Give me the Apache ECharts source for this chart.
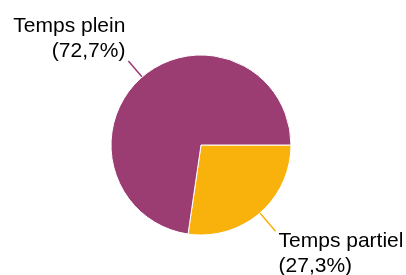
<!DOCTYPE html>
<html>
<head>
<meta charset="utf-8">
<script src="https://cdn.jsdelivr.net/npm/echarts@6/dist/echarts.min.js"></script>
<style>html,body{margin:0;padding:0;background:#fff;}#c{width:406px;height:275px;}</style>
</head>
<body>
<div id="c"></div>
<script>
var categories = ['Temps partiel', 'Temps plein'];
var values = [27.3, 72.7];
var colors = ['#f9b20c', '#9b3c72'];

var chart = echarts.init(document.getElementById('c'), null, {renderer: 'canvas'});
var data = categories.map(function (n, i) {
  return {
    name: n,
    value: values[i],
    itemStyle: {color: colors[i]},
    labelLine: {length: i === 0 ? 24 : 21}
  };
});
chart.setOption({
  animation: false,
  series: [{
    type: 'pie',
    center: [201, 145],
    radius: 90,
    startAngle: 0,
    clockwise: true,
    avoidLabelOverlap: false,
    data: data,
    itemStyle: {borderColor: '#fff', borderWidth: 1},
    label: {
      show: true,
      position: 'outside',
      distanceToLabelLine: 3,
      fontFamily: 'Liberation Sans, Arial, sans-serif',
      fontSize: 21,
      lineHeight: 25,
      color: '#000',
      formatter: function (p) {
        var t = '{a|' + p.name + '}\n{a|(' + String(p.value).replace('.', ',') + '%)}';
        return p.dataIndex === 0 ? '{s| }\n' + t : t + '\n{s| }';
      },
      rich: {
        a: {fontFamily: 'Liberation Sans, Arial, sans-serif', fontSize: 21, lineHeight: 25, color: '#000'},
        s: {fontSize: 10, lineHeight: 45, height: 45}
      }
    },
    labelLine: {show: true, length2: 0, lineStyle: {width: 1.5}}
  }]
});
</script>
</body>
</html>
